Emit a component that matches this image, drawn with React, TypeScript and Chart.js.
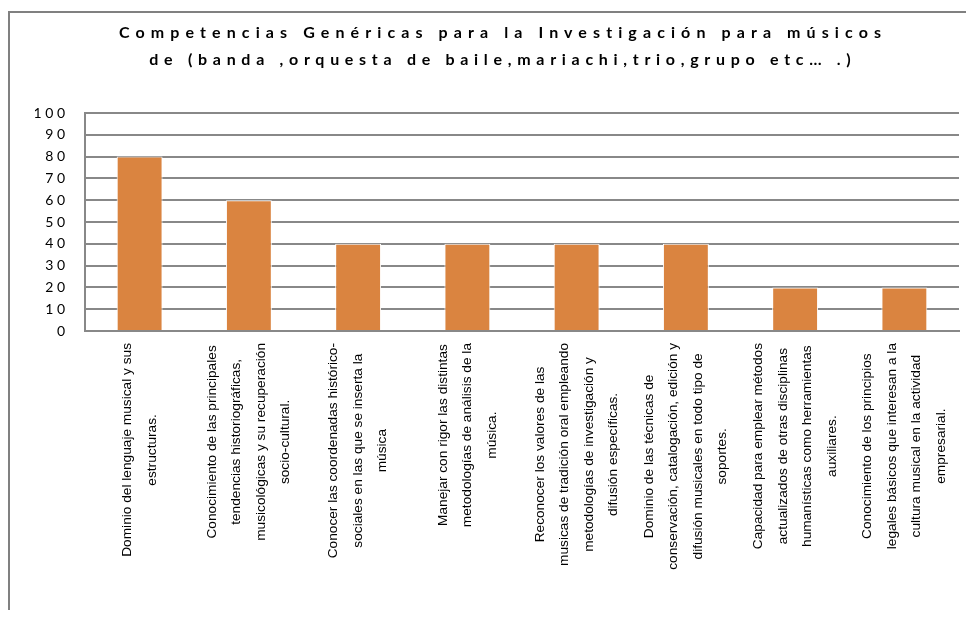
import React, { useEffect, useRef } from "react";
import { Chart, registerables } from "chart.js";

Chart.register(...registerables);

const TITLE_LINES = [
  "Competencias Genéricas para la Investigación para músicos",
  "de (banda ,orquesta de baile,mariachi,trio,grupo etc… .)",
];
const TITLE_SPACING = [6.1, 5.7];

const CATEGORIES: string[][] = [
  ["Dominio del lenguaje musical y sus", "estructuras."],
  [
    "Conocimiento de las principales",
    "tendencias historiográficas,",
    "musicológicas y su recuperación",
    "socio-cultural.",
  ],
  [
    "Conocer las coordenadas histórico-",
    "sociales en las que se inserta la",
    "música",
  ],
  [
    "Manejar con rigor las distintas",
    "metodologías de análisis de la",
    "música.",
  ],
  [
    "Reconocer los valores de las",
    "musicas de tradición oral empleando",
    "metodologías de investigación y",
    "difusión específicas.",
  ],
  [
    "Dominio de las técnicas de",
    "conservación, catalogación, edición y",
    "difusión musicales en todo tipo de",
    "soportes.",
  ],
  [
    "Capacidad para emplear métodos",
    "actualizados de otras disciplinas",
    "humanísticas como herramientas",
    "auxiliares.",
  ],
  [
    "Conocimiento de los principios",
    "legales básicos que interesan a la",
    "cultura musical en la actividad",
    "empresarial.",
  ],
];

const VALUES = [80, 60, 40, 40, 40, 40, 20, 20];

const Y_MIN = 0;
const Y_MAX = 100;
const Y_STEP = 10;

const BAR_COLOR = "#DA8440";
const GRID_COLOR = "#888888";

const PAD = { left: 25, right: 15, top: 100, bottom: 0 };

const titlePlugin = {
  id: "spacedTitle",
  afterDraw(chart: any) {
    const ctx = chart.ctx as any;
    const cx = (PAD.left + chart.width - PAD.right) / 2 + 3;
    ctx.save();
    ctx.font = 'bold 16px Lato, sans-serif';
    ctx.fillStyle = "#000";
    ctx.textAlign = "center";
    ctx.textBaseline = "middle";
    TITLE_LINES.forEach((t, i) => {
      const sp = TITLE_SPACING[i];
      ctx.letterSpacing = sp + "px";
      ctx.fillText(t, cx + sp / 2, 20 + i * 27);
    });
    ctx.restore();
  },
};

const xLabelsPlugin = {
  id: "xLabels",
  afterDraw(chart: any) {
    const ctx = chart.ctx as CanvasRenderingContext2D;
    const xs = chart.scales.x;
    ctx.save();
    (ctx as any).letterSpacing = "0px";
    ctx.font = '13.7px "Liberation Sans", Arial, sans-serif';
    ctx.fillStyle = "#000";
    ctx.textAlign = "center";
    ctx.textBaseline = "middle";
    const lh = 24.5;
    CATEGORIES.forEach((lines, i) => {
      const x = xs.getPixelForValue(i);
      const top = xs.top + 12;
      const maxW = Math.max(...lines.map((l) => ctx.measureText(l).width));
      ctx.save();
      ctx.translate(x, top);
      ctx.rotate(-Math.PI / 2);
      lines.forEach((l, j) => {
        ctx.fillText(l, -maxW / 2, (j - (lines.length - 1) / 2) * lh);
      });
      ctx.restore();
    });
    ctx.restore();
  },
};

export default function App() {
  const ref = useRef<HTMLCanvasElement | null>(null);

  useEffect(() => {
    if (!ref.current) return;
    const chart = new Chart(ref.current, {
      type: "bar",
      data: {
        labels: CATEGORIES,
        datasets: [
          {
            data: VALUES,
            backgroundColor: BAR_COLOR,
            borderColor: "#ffffff",
            borderWidth: 1,
            barPercentage: 0.42,
            categoryPercentage: 1,
          },
        ],
      },
      options: {
        responsive: false,
        animation: false,
        layout: { padding: PAD },
        plugins: {
          legend: { display: false },
          tooltip: { enabled: false },
          title: { display: false },
        },
        scales: {
          x: {
            grid: { display: false },
            border: { display: true, color: GRID_COLOR, width: 2 },
            ticks: { display: false },
            afterFit: (s: any) => {
              s.height = 279;
            },
          },
          y: {
            min: Y_MIN,
            max: Y_MAX,
            ticks: {
              stepSize: Y_STEP,
              padding: 20,
              color: "#000",
              font: { family: "Lato", size: 14 },
              callback: (v: any) => String(v).split("").join(" "),
            },
            grid: { color: GRID_COLOR, lineWidth: 2, drawTicks: false },
            border: { color: GRID_COLOR, width: 2 },
            afterFit: (s: any) => {
              s.width = 50;
            },
          },
        },
      },
      plugins: [titlePlugin, xLabelsPlugin],
    } as any);
    return () => chart.destroy();
  }, []);

  return (
    <div style={{ paddingTop: 3 }}>
      <div
        style={{
          borderLeft: "2px solid #808080",
          borderTop: "2px solid #808080",
          width: 964,
          height: 597,
        }}
      >
        <canvas ref={ref} width={964} height={597} style={{ display: "block" }} />
      </div>
    </div>
  );
}
